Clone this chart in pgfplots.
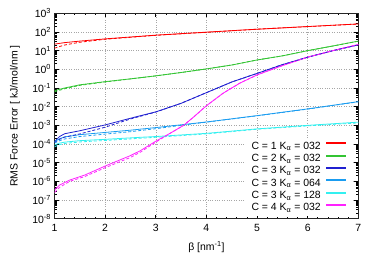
\documentclass[border=0pt]{standalone}
\usepackage{pgfplots}
\pgfplotsset{compat=1.18}
\usepackage{fontspec}
\setmainfont{Liberation Sans}
\definecolor{cred}{HTML}{FF0000}
\definecolor{cgreen}{HTML}{33C433}
\definecolor{cblue}{HTML}{2020D0}
\definecolor{clblue}{HTML}{1A9CF0}
\definecolor{ccyan}{HTML}{33F0F0}
\definecolor{cmag}{HTML}{FF22FF}
\newcommand{\fs}{\fontsize{10.5}{12}\selectfont}
\begin{document}
\begin{tikzpicture}
\useasboundingbox (0,0) rectangle (374bp,265bp);
\begin{axis}[
  at={(54.5bp,46.3bp)}, anchor=south west,
  scale only axis, width=303.8bp, height=205.4bp,
  xmin=1, xmax=7, ymode=log, ymin=1e-8, ymax=1e3,
  xtick={1,2,3,4,5,6,7},
  xticklabels={1,2,3,4,5,6,7},
  minor x tick num=4,
  ytickten={-8,-7,-6,-5,-4,-3,-2,-1,0,1,2,3},
  yticklabels={10\textsuperscript{-8},10\textsuperscript{-7},10\textsuperscript{-6},10\textsuperscript{-5},10\textsuperscript{-4},10\textsuperscript{-3},10\textsuperscript{-2},10\textsuperscript{-1},10\textsuperscript{0},10\textsuperscript{1},10\textsuperscript{2},10\textsuperscript{3}},
  tick pos=both, tick align=inside,
  major tick length=4bp, minor tick length=2bp,
  tick style={black, line width=0.6pt},
  axis line style={line width=1pt, black!85},
  grid=major, major grid style={gray!70, dotted, line width=0.5pt},
  ticklabel style={font=\fs},
  xticklabel style={yshift=-2bp},
  xlabel={β [nm\textsuperscript{-1}]},
  xlabel style={font=\fs, at={(axis description cs:0.5,0)}, anchor=center, yshift=-28.6bp},
  ylabel={RMS Force Error [ kJ/mol/nm ]},
  ylabel style={font=\fs, at={(axis description cs:-0.130,0.5)}, anchor=center},
  legend plot pos=right,
  legend cell align=right,
  legend style={at={(axis description cs:1,0)}, anchor=south east, xshift=-6.3bp, yshift=2.7bp,
    draw=none, fill=white, inner xsep=6bp, inner ysep=3bp,
    font=\fs, row sep=2.3bp, column sep=5.5bp,
    nodes={inner sep=0pt, text height=8bp, text depth=2bp}},
  legend image code/.code={\fill[#1] (0bp,2.5bp) rectangle (18.7bp,3.6bp);},
  every axis plot/.append style={line width=0.8pt},
]
% C=1 K=032
\addplot[cred] coordinates {(1,22.4) (1.2,26.9) (1.5,32.4) (2,42.7) (3,67.6) (4,97.7) (5,141) (6,195) (7,269)};
\addlegendentry{C = 1 K\textsubscript{α} = 032}
% C=2 K=032
\addplot[cgreen] coordinates {(1,0.0724) (1.2,0.1) (1.5,0.148) (2,0.219) (2.5,0.309) (3,0.447) (3.5,0.676) (4,1.05) (4.5,1.70) (5,3.16) (5.5,5.25) (6,10) (6.5,17.8) (7,32.4)};
\addlegendentry{C = 2 K\textsubscript{α} = 032}
% C=3 K=032
\addplot[cblue] coordinates {(1,1.35e-4) (1.1,2.51e-4) (1.2,3.55e-4) (1.5,5.13e-4) (2,1.05e-3) (2.5,2.40e-3) (3,5.25e-3) (3.5,1.51e-2) (4,5.62e-2) (4.5,0.209) (5,0.603) (5.5,1.78) (6,4.47) (6.5,10) (7,20.4)};
\addlegendentry{C = 3 K\textsubscript{α} = 032}
% C=3 K=064
\addplot[clblue] coordinates {(1,1.35e-4) (1.1,1.91e-4) (1.2,2.40e-4) (1.5,3.16e-4) (2,4.17e-4) (2.5,5.50e-4) (3,7.59e-4) (4,1.51e-3) (5,3.31e-3) (6,7.59e-3) (7,1.86e-2)};
\addlegendentry{C = 3 K\textsubscript{α} = 064}
% C=3 K=128
\addplot[ccyan] coordinates {(1,8.91e-5) (1.1,1.12e-4) (1.2,1.26e-4) (1.5,1.51e-4) (2,1.78e-4) (2.7,2.29e-4) (3,2.51e-4) (4,3.72e-4) (5,6.46e-4) (6,1.0e-3) (7,1.48e-3)};
\addlegendentry{C = 3 K\textsubscript{α} = 128}
% C=4 K=032
\addplot[cmag] coordinates {(1,3.47e-7) (1.1,6.31e-7) (1.3,1.17e-6) (1.6,2.19e-6) (2,6.61e-6) (2.5,2.40e-5) (2.7,4.47e-5) (3,1.41e-4) (3.3,3.98e-4) (3.55,1.0e-3) (3.75,2.82e-3) (4,1.12e-2) (4.33,5.25e-2) (4.66,0.182) (5,0.501) (5.5,1.58) (6,4.47) (6.5,10) (7,21.4)};
\addlegendentry{C = 4 K\textsubscript{α} = 032}
% dashed companions
\addplot[cred, dash pattern=on 3bp off 2bp, forget plot] coordinates {(1,13.5) (1.1,16.6) (1.2,20.0) (1.5,28.2) (2,40.7) (3,66.1) (4,96) (5,140) (6,194) (7,268)};
\addplot[cgreen, dash pattern=on 3bp off 2bp, forget plot] coordinates {(1,0.063) (1.2,0.091) (1.5,0.138) (2,0.21) (2.5,0.305) (3,0.445) (3.5,0.674) (4,1.05) (4.5,1.70) (5,3.16) (5.5,5.25) (6,10) (6.5,17.8) (7,32.4)};
\addplot[cblue, dash pattern=on 3bp off 2bp, forget plot] coordinates {(1,1.20e-4) (1.1,1.78e-4) (1.2,2.34e-4) (1.5,3.47e-4) (2,7.94e-4) (2.5,2.19e-3) (3,5.13e-3) (3.5,1.51e-2) (4,5.62e-2) (4.5,0.209) (5,0.603) (5.5,1.78) (6,4.47) (6.5,10) (7,20.4)};
\addplot[clblue, dash pattern=on 3bp off 2bp, forget plot] coordinates {(1,1.12e-4) (1.1,1.51e-4) (1.2,1.86e-4) (1.5,2.51e-4) (2,3.39e-4) (2.5,4.57e-4) (3,6.61e-4) (3.5,1.0e-3) (4,1.48e-3) (5,3.24e-3) (6,7.41e-3) (7,1.82e-2)};
\addplot[ccyan, dash pattern=on 3bp off 2bp, forget plot] coordinates {(1,7.08e-5) (1.1,9.33e-5) (1.2,1.07e-4) (1.5,1.29e-4) (2,1.55e-4) (3,2.29e-4) (4,3.47e-4) (5,6.17e-4) (6,9.33e-4) (7,1.35e-3)};
\addplot[cmag, dash pattern=on 3bp off 2bp, forget plot] coordinates {(1,2.51e-7) (1.1,4.79e-7) (1.3,1.0e-6) (1.6,1.82e-6) (2,5.37e-6) (2.5,1.91e-5) (2.7,3.72e-5) (3,1.26e-4) (3.3,3.98e-4) (3.55,1.0e-3) (3.75,2.82e-3) (4,1.12e-2) (4.33,5.25e-2) (4.66,0.182) (5,0.501) (5.5,1.58) (6,4.47) (6.5,10) (7,21.4)};
\end{axis}
\end{tikzpicture}
\end{document}
